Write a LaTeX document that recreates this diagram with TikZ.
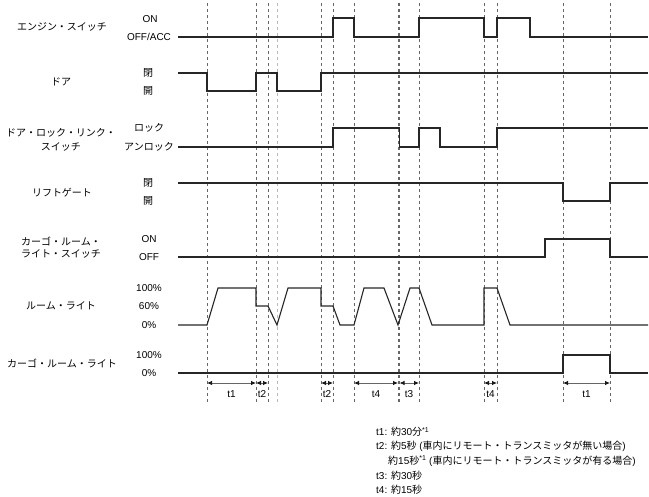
\documentclass[tikz,border=0pt]{standalone}
\usepackage{fontspec}
\setmainfont{Liberation Sans}
\newfontfamily\jp{Noto Sans CJK JP}
\usetikzlibrary{arrows.meta}
\begin{document}
\begin{tikzpicture}[x=1pt,y=-1pt,
  sig/.style={line width=1.1pt, draw=black!85, line join=miter},
  gridline/.style={dash pattern=on 3.5pt off 2.5pt, draw=black!60, line width=0.6pt},
  gridlight/.style={gridline, draw=black!28, line width=1pt},
  lbl/.style={font=\fontsize{10}{12}\selectfont\jp, inner sep=0pt},
  lvl/.style={font=\fontsize{10}{12}\selectfont, inner sep=0pt},
  tarr/.style={{Latex[length=5pt,width=4.5pt,color=black!90]}-{Latex[length=5pt,width=4.5pt,color=black!90]}, draw=black!60, line width=0.8pt},
  tlbl/.style={font=\fontsize{10}{12}\selectfont, inner sep=0pt},
  leg/.style={font=\fontsize{10}{12}\selectfont, anchor=west, inner sep=0pt}
]
\useasboundingbox (0,0) rectangle (649,497);

% vertical dashed timing lines
\foreach \x in {207,256,268,321,333,354,398,399.5,419,484,497,563,610}
  \draw[gridline] (\x,3) -- (\x,403);
\draw[gridlight] (277,3) -- (277,403);

% signal names
\node[lbl] (n1) at (62,27) {エンジン・スイッチ};
\node[lbl] (n2) at (61,82) {ドア};
\node[lbl] (n3a) at (61,133) {ドア・ロック・リンク・};
\node[lbl] (n3b) at (61,147) {スイッチ};
\node[lbl] (n4) at (62,193) {リフトゲート};
\node[lbl] (n5a) at (61,241) {カーゴ・ルーム・};
\node[lbl] (n5b) at (61,254) {ライト・スイッチ};
\node[lbl] (n6) at (61,306) {ルーム・ライト};
\node[lbl] (n7) at (62,363) {カーゴ・ルーム・ライト};

% level labels
\node[lvl] (v1a) at (150,19) {ON};
\node[lvl] (v1b) at (149,37) {OFF/ACC};
\node[lbl] (v2a) at (148,73) {閉};
\node[lbl] (v2b) at (148,91) {開};
\node[lbl] (v3a) at (149,128) {ロック};
\node[lbl] (v3b) at (149,147) {アンロック};
\node[lbl] (v4a) at (148,183) {閉};
\node[lbl] (v4b) at (148,201) {開};
\node[lvl] (v5a) at (149,239) {ON};
\node[lvl] (v5b) at (149,257) {OFF};
\node[lvl] (v6a) at (149,288) {100\%};
\node[lvl] (v6b) at (149,306) {60\%};
\node[lvl] (v6c) at (149,325) {0\%};
\node[lvl] (v7a) at (149,355) {100\%};
\node[lvl] (v7b) at (149,373) {0\%};

% signals
\draw[sig] (178,37) -- (333,37) -- (333,18) -- (354,18) -- (354,37) -- (419,37) -- (419,18) -- (484,18) -- (484,37) -- (497,37) -- (497,18) -- (530,18) -- (530,37) -- (648,37);
\draw[sig] (178,73) -- (207,73) -- (207,91) -- (256,91) -- (256,73) -- (277,73) -- (277,91) -- (321,91) -- (321,73) -- (648,73);
\draw[sig] (178,147) -- (333,147) -- (333,128) -- (399.5,128) -- (399.5,147) -- (419,147) -- (419,128) -- (440,128) -- (440,147) -- (497,147) -- (497,128) -- (648,128);
\draw[sig] (178,183) -- (563,183) -- (563,201) -- (610,201) -- (610,183) -- (648,183);
\draw[sig] (178,257) -- (545,257) -- (545,239) -- (610,239) -- (610,257) -- (648,257);
\draw[sig] (178,325) -- (207,325) -- (218,288) -- (256,288) -- (256,306) -- (268,306) -- (277,325) -- (288,288) -- (321,288) -- (321,306) -- (333,306) -- (340,325) -- (354,325) -- (364,288) -- (384,288) -- (398,325) -- (410,288) -- (419,288) -- (432,325) -- (484,325) -- (484,288) -- (497,288) -- (510,325) -- (648,325);
\draw[sig] (178,373) -- (563,373) -- (563,355) -- (610,355) -- (610,373) -- (648,373);

% time intervals
\coordinate (a0) at (207,383);
\coordinate (a1) at (256,383);
\coordinate (a2) at (268,383);
\coordinate (b0) at (321,383);
\coordinate (b1) at (333,383);
\coordinate (c0) at (354,383);
\coordinate (c1) at (398,383);
\coordinate (c2) at (399.5,383);
\coordinate (c3) at (419,383);
\coordinate (d0) at (484,383);
\coordinate (d1) at (497,383);
\coordinate (e0) at (563,383);
\coordinate (e1) at (610,383);
\draw[tarr] (a0) -- (a1);
\draw[tarr] (a1) -- (a2);
\draw[tarr] (b0) -- (b1);
\draw[tarr] (c0) -- (c1);
\draw[tarr] (c2) -- (c3);
\draw[tarr] (d0) -- (d1);
\draw[tarr] (e0) -- (e1);
\node[tlbl] (t1a) at (231.5,394.5) {t1};
\node[tlbl] (t2a) at (262,394.5) {t2};
\node[tlbl] (t2b) at (327,394.5) {t2};
\node[tlbl] (t4a) at (376,394.5) {t4};
\node[tlbl] (t3a) at (409,394.5) {t3};
\node[tlbl] (t4b) at (490.5,394.5) {t4};
\node[tlbl] (t1b) at (586.5,394.5) {t1};

% legend
\node[leg] (l1) at (376,432) {t1: {\jp 約}30{\jp 分}\textsuperscript{*1}};
\node[leg] (l2) at (376,446.5) {t2: {\jp 約}5{\jp 秒} ({\jp 車内にリモート・トランスミッタが無い場合})};
\node[leg] (l3) at (388,461) {{\jp 約}15{\jp 秒}\textsuperscript{*1} ({\jp 車内にリモート・トランスミッタが有る場合})};
\node[leg] (l4) at (376,475.5) {t3: {\jp 約}30{\jp 秒}};
\node[leg] (l5) at (376,490) {t4: {\jp 約}15{\jp 秒}};
\end{tikzpicture}
\end{document}
